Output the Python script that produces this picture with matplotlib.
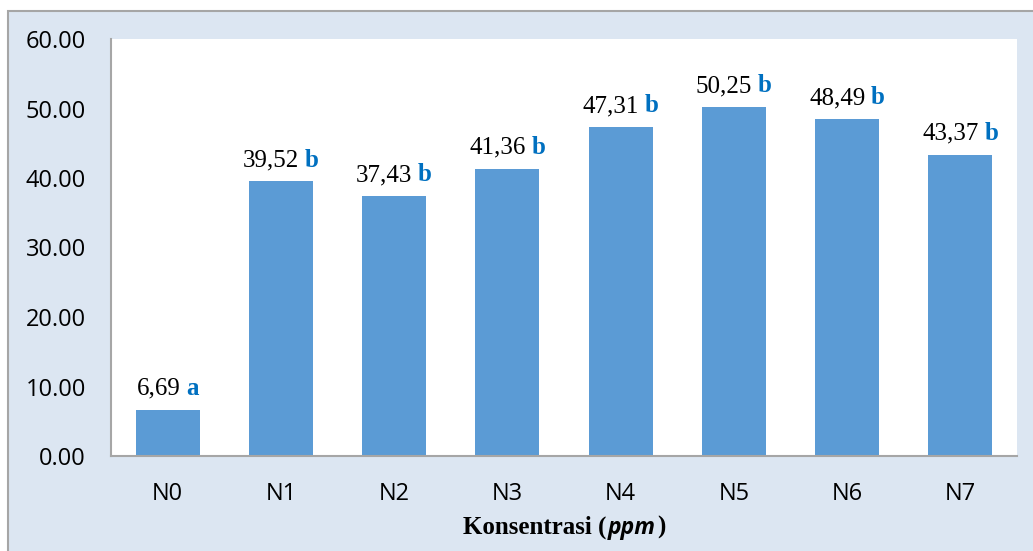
import matplotlib
matplotlib.use("Agg")
import matplotlib.pyplot as plt
from matplotlib.patches import Rectangle
from matplotlib.offsetbox import TextArea, HPacker, AnnotationBbox

# data
treatments = ["N0", "N1", "N2", "N3", "N4", "N5", "N6", "N7"]
means = [6.69, 39.52, 37.43, 41.36, 47.31, 50.25, 48.49, 43.37]
value_labels = ["6,69", "39,52", "37,43", "41,36", "47,31", "50,25", "48,49", "43,37"]
letters = ["a", "b", "b", "b", "b", "b", "b", "b"]
y_ticks = [0, 10, 20, 30, 40, 50, 60]

W, H = 1033, 551
fig = plt.figure(figsize=(W / 100, H / 100), dpi=100, facecolor="white")

# light blue chart-area panel with grey frame (runs off right/bottom edges)
fig.patches.append(Rectangle((8 / W, -0.2), 1.2, 1 - 11 / H + 0.2,
                             transform=fig.transFigure, facecolor="#dce6f2",
                             edgecolor="#a6a6a6", linewidth=1.5, zorder=-5))

ax = fig.add_axes([111 / W, 1 - 456 / H, (1017 - 111) / W, (456 - 39) / H])
ax.set_facecolor("white")

x = range(len(treatments))
ax.bar(x, means, width=0.565, color="#5b9bd5", zorder=2)

ax.set_xlim(-0.5, len(treatments) - 0.5)
ax.set_ylim(0, 60)
ax.set_yticks(y_ticks)
ax.set_yticklabels([f"{v:.2f}" for v in y_ticks])
ax.set_xticks(list(x))
ax.set_xticklabels(treatments)
ax.tick_params(axis="y", length=0, pad=18, labelsize=17)
ax.tick_params(axis="x", length=0, pad=19, labelsize=17)
for lab in ax.get_xticklabels() + ax.get_yticklabels():
    lab.set_fontfamily("Open Sans")

for side in ["top", "right"]:
    ax.spines[side].set_visible(False)
for side in ["left", "bottom"]:
    ax.spines[side].set_color("#a6a6a6")
    ax.spines[side].set_linewidth(1.5)

# value + significance letter above each bar
for i, (m, vl, lt) in enumerate(zip(means, value_labels, letters)):
    num = TextArea(vl, textprops=dict(family="Liberation Serif", size=18, color="black"))
    let = TextArea(lt, textprops=dict(family="Liberation Serif", size=18,
                                      weight="bold", color="#0070c0"))
    box = HPacker(children=[num, let], pad=0, sep=4, align="baseline")
    ab = AnnotationBbox(box, (i, m), xybox=(0, 7), xycoords="data",
                        boxcoords="offset points", box_alignment=(0.5, 0),
                        frameon=False, zorder=3)
    ax.add_artist(ab)

# x-axis title with italic "ppm"
t1 = TextArea("Konsentrasi (", textprops=dict(family="Liberation Serif", size=18,
                                               weight="bold", color="black"))
t2 = TextArea("ppm", textprops=dict(family="Open Sans", size=16.5, weight="bold",
                                     style="italic", color="black"))
t3 = TextArea(")", textprops=dict(family="Liberation Serif", size=18,
                                   weight="bold", color="black"))
xl = HPacker(children=[t1, t2, t3], pad=0, sep=1, align="baseline")
ab = AnnotationBbox(xl, (564 / W, 1 - 528 / H), xycoords="figure fraction",
                    box_alignment=(0.5, 0.5), frameon=False)
fig.add_artist(ab)

fig.savefig("out.png", dpi=100, facecolor=fig.get_facecolor())
